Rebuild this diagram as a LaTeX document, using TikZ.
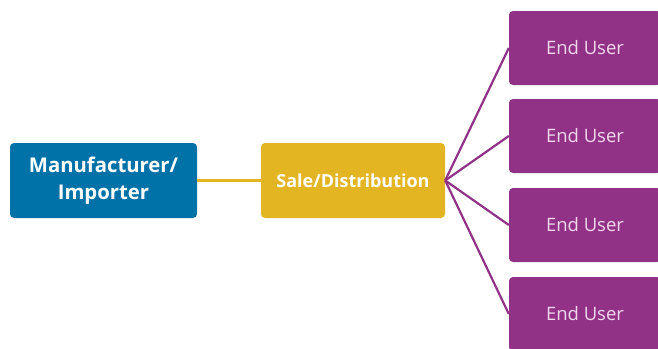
\documentclass[tikz,border=0pt]{standalone}
\usepackage{fontspec}
\setmainfont{Open Sans}
\definecolor{mblue}{RGB}{0,114,168}
\definecolor{myellow}{RGB}{227,181,35}
\definecolor{mpurple}{RGB}{145,50,135}
\definecolor{eutext}{RGB}{240,215,236}
\begin{document}
\begin{tikzpicture}[x=1pt,y=-1pt,
  boxbase/.style={rounded corners=4pt,inner sep=0pt,align=center},
  mfrbox/.style={boxbase,fill=mblue,text=white,minimum width=187pt,minimum height=75pt,font=\fontsize{20.3}{27}\selectfont\bfseries},
  salebox/.style={boxbase,fill=myellow,text=white,minimum width=184pt,minimum height=75pt,font=\fontsize{18}{24}\selectfont\bfseries},
  userbox/.style={boxbase,fill=mpurple,text=eutext,minimum width=152pt,minimum height=74pt,font=\fontsize{18.5}{22}\selectfont},
  yline/.style={draw=myellow,line width=2.2pt},
  pline/.style={draw=mpurple,line width=2.2pt}]
\useasboundingbox (0,0) rectangle (658,348);
\clip (0,0) rectangle (658,348);
\node[mfrbox] (mfr) at (103.5,180.5) {Manufacturer/\\Importer};
\node[salebox] (sale) at (353,180.5) {Sale/Distribution};
\node[userbox] (u1) at (585,48) {End User};
\node[userbox] (u2) at (585,136) {End User};
\node[userbox] (u3) at (585,225) {End User};
\node[userbox] (u4) at (585,314) {End User};
\draw[yline] (mfr.east) -- (sale.west);
\foreach \u in {u1,u2,u3,u4}{\draw[pline] (sale.east) -- (\u.west);}
\end{tikzpicture}
\end{document}
